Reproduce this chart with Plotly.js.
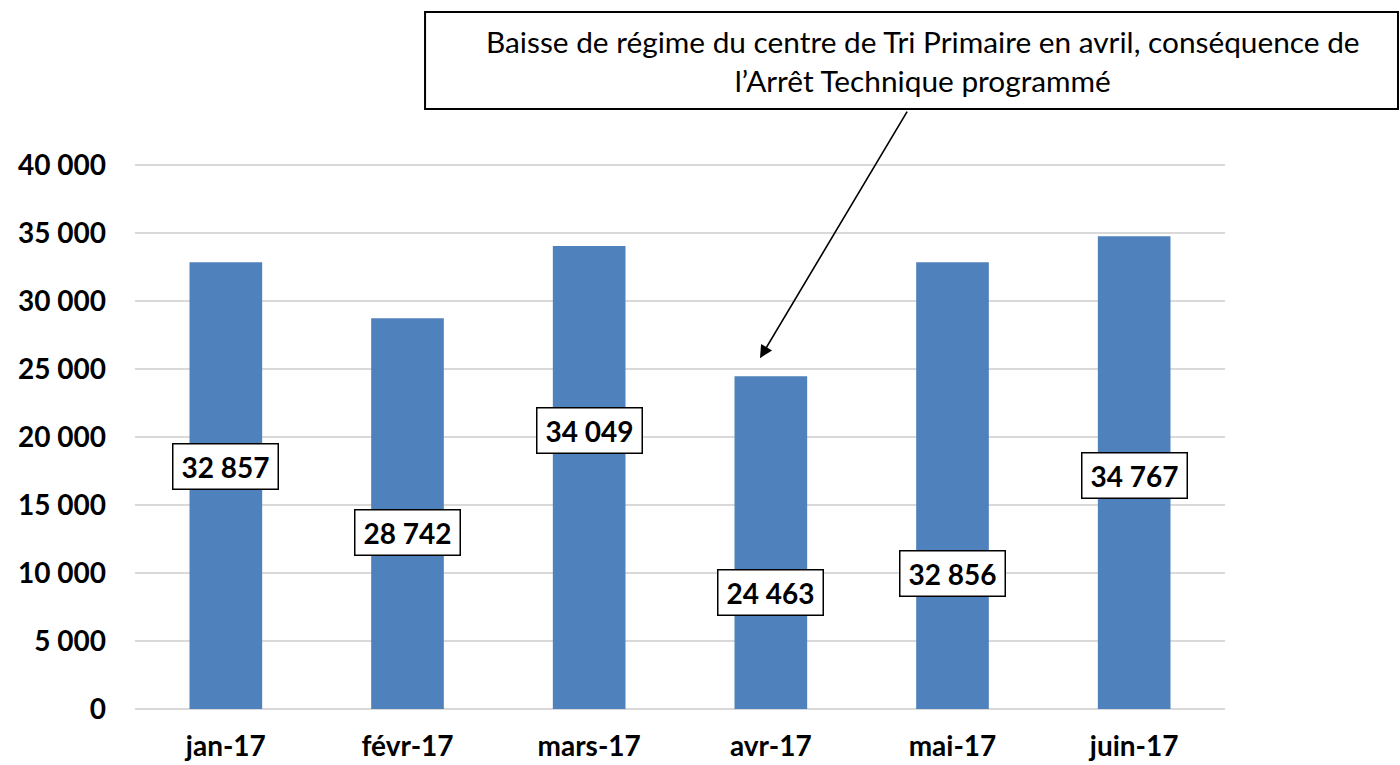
<!DOCTYPE html>
<html>
<head>
<meta charset="utf-8">
<script src="https://cdn.plot.ly/plotly-3.0.1.min.js"></script>
<style>html,body{margin:0;padding:0;background:#fff;}#chart{width:1400px;height:765px;}</style>
</head>
<body>
<div id="chart"></div>
<script>
const months = ['jan-17', 'févr-17', 'mars-17', 'avr-17', 'mai-17', 'juin-17'];
const values = [32857, 28742, 34049, 24463, 32856, 34767];
const valueLabels = ['32 857', '28 742', '34 049', '24 463', '32 856', '34 767'];
const labelY = [17800, 12950, 20500, 8600, 10000, 17200];
const yTicks = [0, 5000, 10000, 15000, 20000, 25000, 30000, 35000, 40000];
const yTickText = ['0', '5 000', '10 000', '15 000', '20 000', '25 000', '30 000', '35 000', '40 000'];
const noteText = 'Baisse de régime du centre de Tri Primaire en avril, conséquence de<br>l’Arrêt Technique programmé';

const FONT = 'Lato, "Open Sans", sans-serif';

const trace = {
  type: 'bar',
  x: months,
  y: values,
  marker: {color: '#4f81bd'},
  hoverinfo: 'x+y'
};

const annotations = months.map((m, i) => ({
  x: m, y: labelY[i], xref: 'x', yref: 'y',
  text: '<b>' + valueLabels[i] + '</b>',
  showarrow: false,
  font: {family: FONT, size: 28, color: '#000'},
  bgcolor: '#ffffff', bordercolor: '#000000', borderwidth: 1.5, borderpad: 5,
  width: 94,
  xanchor: 'center', yanchor: 'middle'
}));

annotations.push({
  xref: 'paper', yref: 'paper',
  x: 0.7229, y: 1.186,
  xanchor: 'center', yanchor: 'middle',
  text: noteText,
  showarrow: false,
  font: {family: FONT, size: 29.8, color: '#000'},
  align: 'center'
});

annotations.push({
  xref: 'paper', yref: 'y',
  x: 0.5734, y: 25800,
  ax: 148, ay: -248, axref: 'pixel', ayref: 'pixel',
  text: '', showarrow: true,
  arrowhead: 2, arrowsize: 1.6, arrowwidth: 1.6, arrowcolor: '#000'
});

const shapes = [{
  type: 'rect', xref: 'paper', yref: 'paper',
  x0: 0.2661, x1: 1.1587, y0: 1.0989, y1: 1.2766,
  line: {color: '#000000', width: 2}, fillcolor: 'rgba(0,0,0,0)', layer: 'above'
}];

const layout = {
  width: 1400, height: 765,
  margin: {l: 135, r: 175, t: 163, b: 56},
  paper_bgcolor: '#ffffff', plot_bgcolor: '#ffffff',
  bargap: 0.6,
  showlegend: false,
  font: {family: FONT, color: '#000'},
  xaxis: {
    type: 'category',
    tickfont: {family: FONT, size: 28, color: '#000', weight: 'bold'},
    showgrid: false, zeroline: false, showline: false,
    ticks: '', ticklabelstandoff: 18
  },
  yaxis: {
    range: [0, 40150],
    tickvals: yTicks, ticktext: yTickText,
    tickfont: {family: FONT, size: 28, color: '#000', weight: 'bold'},
    showgrid: true, gridcolor: '#d9d9d9', gridwidth: 2,
    zeroline: true, zerolinecolor: '#d9d9d9', zerolinewidth: 2,
    showline: false, ticks: '', ticklabelstandoff: 28
  },
  shapes: shapes,
  annotations: annotations
};

Plotly.newPlot('chart', [trace], layout, {displayModeBar: false, staticPlot: true});
</script>
</body>
</html>
